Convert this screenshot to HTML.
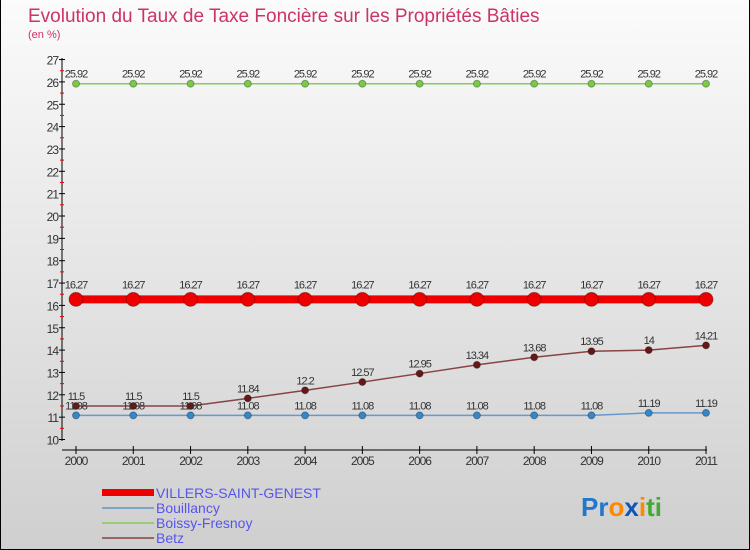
<!DOCTYPE html>
<html><head><meta charset="utf-8"><style>
body{margin:0;}
#wrap{position:relative;width:750px;height:550px;overflow:hidden;background:linear-gradient(#fbfbfb,#cfcfcf);box-sizing:border-box;border:1px solid #000;border-top:none;font-family:"Liberation Sans",sans-serif;}
svg text{font-family:"Liberation Sans",sans-serif;}
</style></head><body>
<div id="wrap">
<svg id="chart" width="750" height="550">
<text x="27" y="22" font-size="19" fill="#cc3366">Evolution du Taux de Taxe Foncière sur les Propriétés Bâties</text>
<text x="27" y="38" font-size="11" fill="#cc3366">(en %)</text>
<g id="axes"></g><g id="series"></g>
<g>
<rect x="101" y="489" width="52" height="7" fill="#ee0000"/>
<text x="155" y="498" font-size="14" fill="#5555ee">VILLERS-SAINT-GENEST</text>
<line x1="101" y1="508" x2="153" y2="508" stroke="#7aa6c8" stroke-width="2"/>
<text x="155" y="513" font-size="14" fill="#5555ee">Bouillancy</text>
<line x1="101" y1="523" x2="153" y2="523" stroke="#99cc77" stroke-width="2"/>
<text x="155" y="528" font-size="14" fill="#5555ee">Boissy-Fresnoy</text>
<line x1="101" y1="538" x2="153" y2="538" stroke="#996666" stroke-width="2"/>
<text x="155" y="543" font-size="14" fill="#5555ee">Betz</text>
</g>
<text x="580" y="516" font-size="26" font-weight="bold"><tspan fill="#2277cc">Pr</tspan><tspan fill="#ff8800">o</tspan><tspan fill="#1155bb">x</tspan><tspan fill="#ff8800">i</tspan><tspan fill="#44aa33">ti</tspan></text>
</svg></div>
<script>
const years=[2000,2001,2002,2003,2004,2005,2006,2007,2008,2009,2010,2011];
const yTicks=[10,11,12,13,14,15,16,17,18,19,20,21,22,23,24,25,26,27];
const villers=[16.27,16.27,16.27,16.27,16.27,16.27,16.27,16.27,16.27,16.27,16.27,16.27];
const bouillancy=[11.08,11.08,11.08,11.08,11.08,11.08,11.08,11.08,11.08,11.08,11.19,11.19];
const boissy=[25.92,25.92,25.92,25.92,25.92,25.92,25.92,25.92,25.92,25.92,25.92,25.92];
const betz=[11.5,11.5,11.5,11.84,12.2,12.57,12.95,13.34,13.68,13.95,14,14.21];
const NS="http://www.w3.org/2000/svg";
const x=i=>75+i*(630/11);
const y=v=>439.5-(v-10)*22.35;
function mk(t,a,p){const e=document.createElementNS(NS,t);for(const k in a)e.setAttribute(k,a[k]);p.appendChild(e);return e;}
const ax=document.getElementById('axes');
const yl=mk('line',{x1:61,y1:58,x2:61,y2:441,stroke:'#000'},ax);


const xl=mk('line',{x1:61,y1:450,x2:706,y2:450,stroke:'#000'},ax);


yTicks.forEach(v=>{
 mk('line',{x1:58,y1:y(v),x2:64,y2:y(v),stroke:'#000'},ax);
 if(v<27)mk('line',{x1:59,y1:y(v+0.5),x2:63,y2:y(v+0.5),stroke:'#e00'},ax);
 const t=mk('text',{x:57,y:y(v)+5,'font-size':12,'text-anchor':'end',fill:'#333','letter-spacing':'-1'},ax);
 t.textContent=v;
 
 
});
years.forEach((yr,i)=>{
 mk('line',{x1:x(i),y1:446,x2:x(i),y2:454,stroke:'#000'},ax);
 const t=mk('text',{x:x(i),y:465,'font-size':12,'text-anchor':'middle',fill:'#333','letter-spacing':'-1'},ax);
 t.textContent=yr;
 
 
});
const sg=document.getElementById('series');
function series(vals,name,color,lw,r,dot,labOff){
 const g=mk('g',{},sg);
 
 
 const l=mk('polyline',{points:vals.map((v,i)=>x(i)+','+y(v)).join(' '),fill:'none',stroke:color,'stroke-width':lw},g);
 
 
 vals.forEach((v,i)=>{
  const c=mk('circle',{cx:x(i),cy:y(v),r:r,fill:dot,stroke:'rgba(0,0,0,0.3)','stroke-width':1},g);
  
  
  const t=mk('text',{x:x(i),y:y(v)+labOff,'font-size':11,'text-anchor':'middle',fill:'#333','letter-spacing':'-1'},g);
  t.textContent=v;
  
  
 });
}
series(boissy,'boissy','#88cc55',1.5,3.5,'#77cc44',-6);
series(villers,'villers','#ee0000',8,7,'#ee0000',-11);
series(betz,'betz','#884444',1.5,3.5,'#661818',-6);
series(bouillancy,'bouillancy','#6699cc',1.5,3.5,'#3388cc',-6);
</script>
</body></html>
